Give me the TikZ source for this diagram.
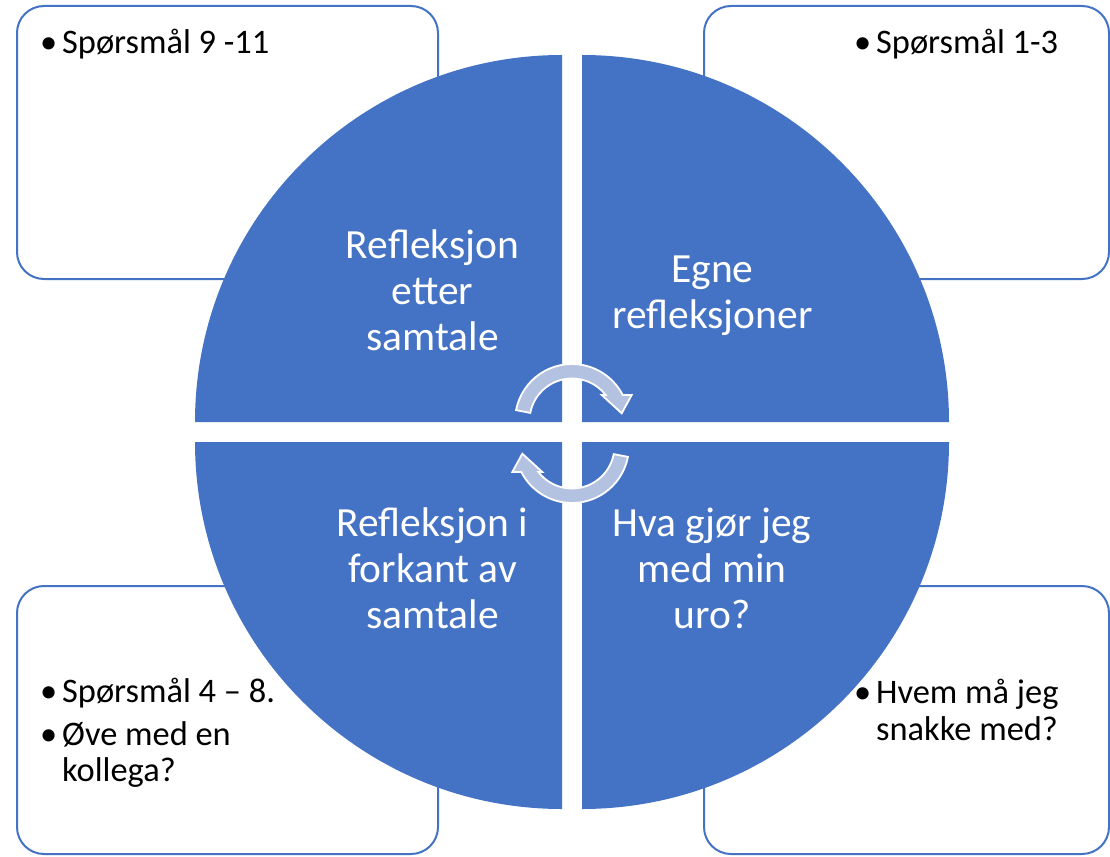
\documentclass[tikz,border=0pt]{standalone}
\usepackage{fontspec}
\setmainfont{Carlito}
\usetikzlibrary{calc}
\definecolor{accent}{HTML}{4472C4}
\definecolor{arrowfill}{HTML}{B4C2E2}
\begin{document}
\begin{tikzpicture}[x=1pt,y=-1pt,
  box/.style={draw=accent, line width=2pt, fill=white, rounded corners=27pt},
  quad/.style={fill=accent},
  cycarrow/.style={fill=arrowfill, draw=white, line width=1.8pt, line join=miter},
  qtext/.style={text=white, align=center, font=\fontsize{41.5}{46}\selectfont, inner sep=0pt, anchor=base},
  btext/.style={text=black, align=left, font=\fontsize{34.4}{36.7}\selectfont, inner sep=0pt, anchor=base west},
]
\useasboundingbox (0,0) rectangle (1110,856);
\fill[white] (0,0) rectangle (1110,856);

% side boxes
\draw[box] (17,6) rectangle (438,279);
\draw[box] (704,6) rectangle (1109,279);
\draw[box] (17,586) rectangle (438,854);
\draw[box] (704,586) rectangle (1109,854);

% quadrants
\fill[quad] (562,422) -- (195,422) arc[start angle=180,end angle=270,radius=367] -- cycle;
\fill[quad] (582,422) -- (582,55) arc[start angle=270,end angle=360,radius=367] -- cycle;
\fill[quad] (582,442) -- (949,442) arc[start angle=0,end angle=90,radius=367] -- cycle;
\fill[quad] (562,442) -- (562,809) arc[start angle=90,end angle=180,radius=367] -- cycle;

% circular arrows
\draw[cycarrow] ($(572,421)+(191:57)$) arc[start angle=191,end angle=332.9,radius=57]
  -- (631.7,395) -- (621.7,413.3) -- (601.7,395)
  -- ($(572,421)+(322.3:42.5)$) arc[start angle=322.3,end angle=191,radius=42.5] -- cycle;
\draw[cycarrow] ($(572,446)+(11:57)$) arc[start angle=11,end angle=152.9,radius=57]
  -- (512.3,472) -- (522.3,453.7) -- (542.3,472)
  -- ($(572,446)+(142.3:42.5)$) arc[start angle=142.3,end angle=11,radius=42.5] -- cycle;

% quadrant labels (anchor = baseline of last line)
\node[qtext] (q1) at (432.5,350) {Refleksjon\\etter\\samtale};
\node[qtext] (q2) at (712.5,328.3) {Egne\\refleksjoner};
\node[qtext] (q3) at (432.5,628.3) {Refleksjon i\\forkant av\\samtale};
\node[qtext] (q4) at (712,628.3) {Hva gjør jeg\\med min\\uro?};

% box texts
\node[btext] (b1) at (40,53.3) {\makebox[22pt][l]{•}Spørsmål 9 -11};
\node[btext] (b2) at (854,53.3) {\makebox[22pt][l]{•}Spørsmål 1-3};
\node[btext] (b3) at (40,702.7) {\makebox[22pt][l]{•}Spørsmål 4 – 8.};
\node[btext] (b4) at (40,781.7) {\makebox[22pt][l]{•}Øve med en\\\hspace*{22pt}kollega?};
\node[btext] (b5) at (854,740) {\makebox[22pt][l]{•}Hvem må jeg\\\hspace*{22pt}snakke med?};
\end{tikzpicture}
\end{document}
